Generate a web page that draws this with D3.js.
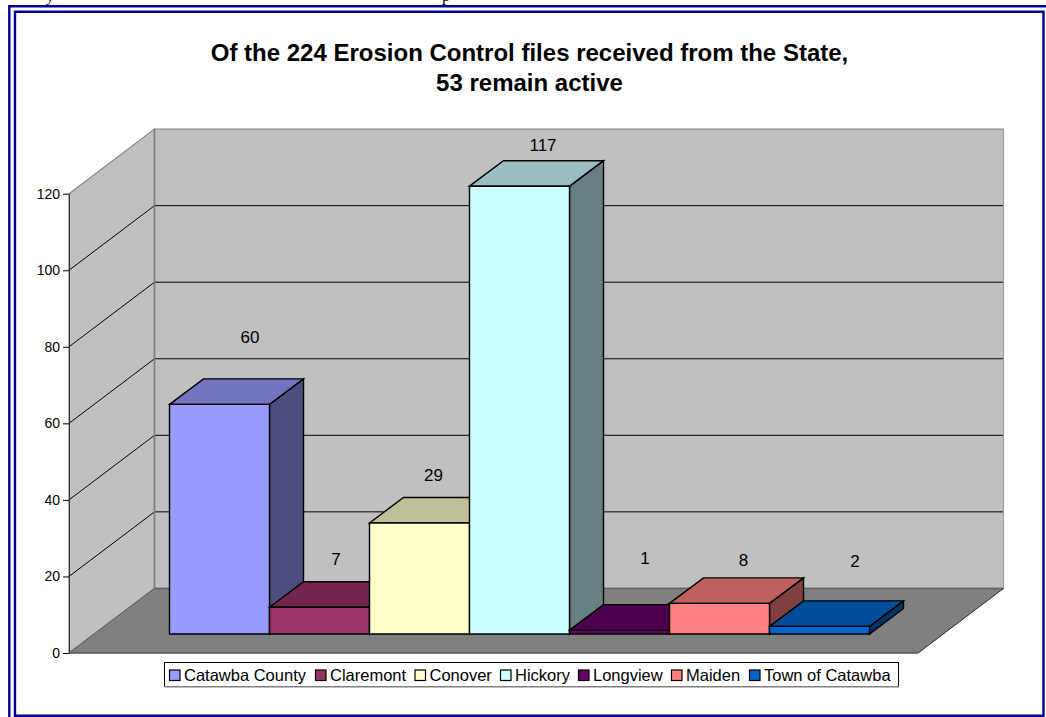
<!DOCTYPE html>
<html><head><meta charset="utf-8">
<script src="https://cdn.jsdelivr.net/npm/d3@7"></script>
<style>html,body{margin:0;padding:0;background:#fff;overflow:hidden}svg{display:block}text{font-family:"Liberation Sans",Arial,sans-serif;fill:#000}</style>
</head><body>
<script>
const titleLines = ["Of the 224 Erosion Control files received from the State,", "53 remain active"];
const categories = ["Catawba County","Claremont","Conover","Hickory","Longview","Maiden","Town of Catawba"];
const values = [60,7,29,117,1,8,2];
const colors = ["#9999FF","#993366","#FFFFCC","#CCFFFF","#660066","#FF8080","#0066CC"];
const yTicks = [0,20,40,60,80,100,120];

const W=1046,H=717;
const svg=d3.select("body").append("svg").attr("width",W).attr("height",H);

// clipped line of page text above the frame
svg.append("text").attr("x",46).attr("y",1).style("font-family","'Liberation Serif'").style("font-size","16px").text("y");
svg.append("text").attr("x",442).attr("y",1).style("font-family","'Liberation Serif'").style("font-size","16px").text("p");

// double frame
const navy="#000099";
svg.append("path").attr("fill","none").attr("stroke",navy).attr("stroke-width",2.4).attr("d","M9.3,717V6.3H1046");
svg.append("path").attr("fill","none").attr("stroke",navy).attr("stroke-width",2.4).attr("d","M15,717V11.8H1043.5V717");
svg.append("path").attr("fill","none").attr("stroke",navy).attr("stroke-width",2.6).attr("d","M15,715.7H1043.5");

// title
svg.selectAll("text.title").data(titleLines).join("text").attr("class","title")
  .attr("x",529.5).attr("y",(d,i)=>[61,91][i]).attr("text-anchor","middle")
  .style("font-size","24px").style("font-weight","bold").text(d=>d);

// projection
const y=d3.scaleLinear().domain([0,120]).range([653,193.7]);
const x=d3.scaleBand().domain(categories).range([169.5,869.5]);
const backDx=85.5, backDy=-64.6;   // wall depth
const barDx=34, barDy=-25.5;       // bar depth
const baseShiftY=-19;              // bars stand in mid-floor
const xL=69, xR=918;
const topV=120;

const g=svg.append("g");
const poly=(pts,fill,stroke,sw)=>g.append("polygon").attr("points",pts.map(p=>p.join(",")).join(" "))
  .attr("fill",fill).attr("stroke",stroke).attr("stroke-width",sw).attr("stroke-linejoin","miter");

// left wall, back wall, floor
poly([[xL,y(0)],[xL+backDx,y(0)+backDy],[xL+backDx,y(topV)+backDy],[xL,y(topV)]],"#C0C0C0","#808080",1.2);
poly([[xL+backDx,y(0)+backDy],[xR+backDx,y(0)+backDy],[xR+backDx,y(topV)+backDy],[xL+backDx,y(topV)+backDy]],"#C0C0C0","#909090",1.2);
poly([[xL,y(0)],[xL+backDx,y(0)+backDy],[xR+backDx,y(0)+backDy],[xR,y(0)]],"#808080","#808080",1);

// gridlines
const grid=yTicks.filter(t=>t>0&&t<topV);
g.selectAll("path.grid").data(grid).join("path").attr("class","grid").attr("fill","none")
  .attr("stroke","#000").attr("stroke-width",1)
  .attr("d",t=>`M${xL},${y(t)}L${xL+backDx},${y(t)+backDy}H${xR+backDx}`);
// re-stroke the corner and edges
g.append("line").attr("x1",xL+backDx).attr("x2",xL+backDx).attr("y1",y(topV)+backDy).attr("y2",y(0)+backDy).attr("stroke","#808080").attr("stroke-width",1.6);
g.append("line").attr("x1",xL).attr("x2",xL+backDx).attr("y1",y(0)).attr("y2",y(0)+backDy).attr("stroke","#606060").attr("stroke-width",1);
g.append("line").attr("x1",xR).attr("x2",xR+backDx).attr("y1",y(0)).attr("y2",y(0)+backDy).attr("stroke","#333").attr("stroke-width",1);
g.append("line").attr("x1",xL).attr("x2",xR).attr("y1",y(0)).attr("y2",y(0)).attr("stroke","#404040").attr("stroke-width",1);
g.append("line").attr("x1",xR+backDx).attr("x2",xR+backDx).attr("y1",y(topV)+backDy).attr("y2",y(0)+backDy).attr("stroke","#A0A0A0").attr("stroke-width",1);
g.append("line").attr("x1",xL+backDx).attr("x2",xR+backDx).attr("y1",y(0)+backDy).attr("y2",y(0)+backDy).attr("stroke","#606060").attr("stroke-width",1.5);

// axis
const axis=d3.axisLeft(y).tickValues(yTicks).tickSize(6).tickPadding(3).tickSizeOuter(0);
const ax=svg.append("g").attr("transform",`translate(${xL},0)`).call(axis);
ax.selectAll("path").attr("stroke","#333").attr("stroke-width",1);
ax.selectAll("line").attr("stroke","#000");
ax.selectAll("text").style("font-size","14px").style("font-family","'Liberation Sans'");

// bars, left to right so each overlaps its neighbour's side
const shade=(c,k)=>{const r=d3.rgb(c);return d3.rgb(r.r*k,r.g*k,r.b*k).formatHex();};
const baseY=y(0)+baseShiftY;
const hgt=v=>y(0)-y(v);
categories.forEach((c,i)=>{
  const x0=x(c),x1=x0+x.bandwidth(),t=baseY-hgt(values[i]),col=colors[i];
  poly([[x1,t],[x1+barDx,t+barDy],[x1+barDx,baseY+barDy],[x1,baseY]],shade(col,.5),"#000",1.4);
  poly([[x0,t],[x0+barDx,t+barDy],[x1+barDx,t+barDy],[x1,t]],shade(col,.75),"#000",1.4);
  poly([[x0,t],[x1,t],[x1,baseY],[x0,baseY]],col,"#000",1.4);
});

// value labels
const labelAt={ "Catawba County":[250,337],"Claremont":[336,559],"Conover":[433.5,475],"Hickory":[543,145],"Longview":[645,558],"Maiden":[743.5,560],"Town of Catawba":[855,561]};
svg.selectAll("text.val").data(categories).join("text").attr("class","val")
  .attr("x",c=>labelAt[c][0]).attr("y",c=>labelAt[c][1]).attr("dy","0.35em").attr("text-anchor","middle")
  .style("font-size","17px").text((c,i)=>values[i]);

// legend
const lg=svg.append("g");
lg.append("rect").attr("x",164.5).attr("y",662.5).attr("width",734).attr("height",24).attr("fill","#fff").attr("stroke","#000").attr("stroke-width",1);
lg.append("line").attr("x1",164.5).attr("x2",899).attr("y1",686.7).attr("y2",686.7).attr("stroke","#808080").attr("stroke-width",1.5);
const swatchX=[169.5,315.5,415,500.5,578.5,671.5,749.5];
const lItems=lg.selectAll("g").data(categories).join("g").attr("transform",(d,i)=>`translate(${swatchX[i]},670)`);
lItems.append("rect").attr("width",10.5).attr("height",10.5).attr("fill",(d,i)=>colors[i]).attr("stroke","#000").attr("stroke-width",1.2);
lItems.append("text").attr("x",14.5).attr("y",11).style("font-size","16.5px").text(d=>d);
</script>
</body></html>
